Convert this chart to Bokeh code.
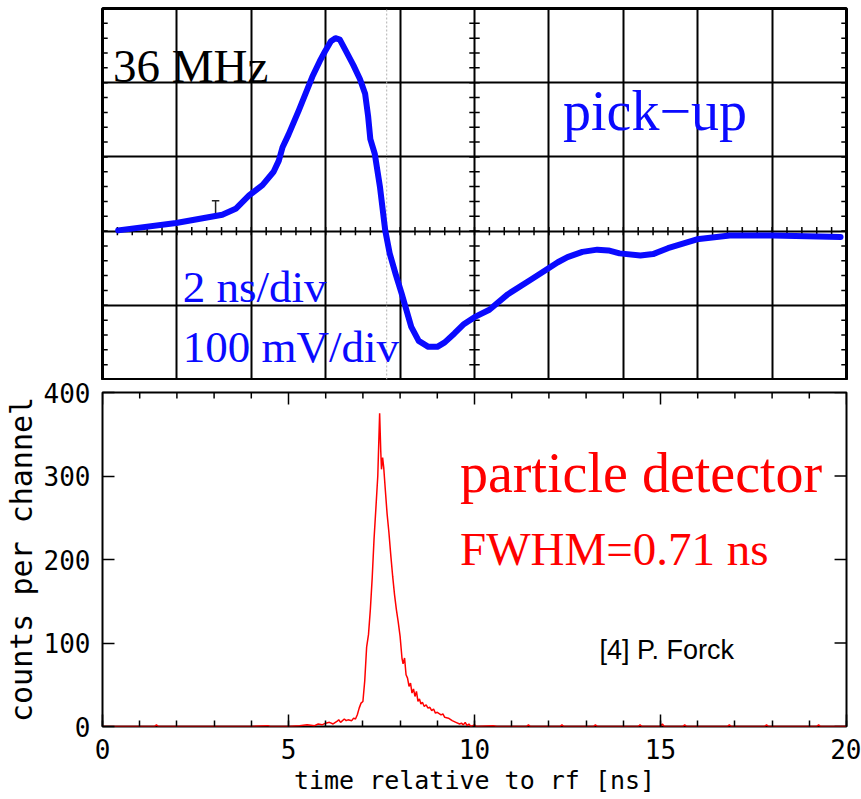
import numpy as np
from bokeh.plotting import figure
from bokeh.layouts import column
from bokeh.models import Range1d, Grid, FixedTicker
from bokeh.core.properties import value
from bokeh.embed import file_html
from bokeh.resources import INLINE

# ---------------- data ----------------
# pick-up signal (oscilloscope divisions: 2 ns/div, 100 mV/div)
pickup_x = [0.21, 0.99, 1.61, 1.79, 1.97, 2.15, 2.30, 2.37, 2.42, 2.50, 2.64, 2.82, 2.92, 2.99,
            3.07, 3.13, 3.19, 3.26, 3.37, 3.46, 3.53, 3.57, 3.60, 3.66, 3.73, 3.80, 3.86, 3.94,
            4.02, 4.15, 4.25, 4.38, 4.50, 4.60, 4.73, 4.85, 5.00, 5.20, 5.45, 5.75, 5.98,
            6.12, 6.25, 6.45, 6.65, 6.80, 6.95, 7.23, 7.40, 7.60, 7.99, 8.43, 9.01, 9.92]
pickup_y = [0.01, 0.11, 0.22, 0.30, 0.48, 0.62, 0.80, 0.95, 1.13, 1.30, 1.63, 2.08, 2.29, 2.42,
            2.56, 2.60, 2.58, 2.45, 2.24, 2.05, 1.85, 1.55, 1.24, 1.04, 0.59, 0.01, -0.30, -0.58,
            -0.84, -1.29, -1.48, -1.56, -1.56, -1.50, -1.38, -1.26, -1.16, -1.06, -0.85, -0.66, -0.51,
            -0.42, -0.35, -0.28, -0.25, -0.26, -0.30, -0.33, -0.31, -0.23, -0.11, -0.06, -0.06, -0.08]

# particle detector histogram (time relative to rf [ns], counts per channel)
det_t = [0.0, 1.40, 1.45, 1.50, 4.00, 4.45, 4.50, 5.00, 5.30, 5.50, 5.70, 5.80, 5.90, 6.00,
         6.10, 6.20, 6.30, 6.35, 6.40, 6.50, 6.55, 6.60, 6.70, 6.75, 6.80, 6.85, 6.90, 6.95,
         7.00, 7.05, 7.10, 7.15, 7.20, 7.25, 7.30, 7.35, 7.40, 7.45, 7.48, 7.50, 7.53, 7.56,
         7.60, 7.65, 7.70, 7.75, 7.80, 7.85, 7.90, 7.95, 8.00, 8.05, 8.08, 8.12, 8.16, 8.20,
         8.24, 8.28, 8.32, 8.36, 8.40, 8.44, 8.48, 8.52, 8.56, 8.60, 8.65, 8.70, 8.75, 8.80,
         8.85, 8.90, 8.95, 9.00, 9.10, 9.15, 9.20, 9.30, 9.40, 9.50, 9.60, 9.65, 9.70, 9.75,
         9.80, 9.85, 9.90, 10.00, 10.05, 10.50, 10.60, 11.40, 11.45, 11.50, 12.30, 12.35,
         12.40, 13.20, 13.25, 13.30, 14.40, 14.45, 14.50, 15.00, 15.05, 15.10, 15.60, 15.65,
         15.70, 16.80, 16.85, 16.90, 17.80, 17.85, 17.90, 19.20, 19.25, 19.30, 20.0]
det_c = [0, 0, 2, 0, 0, 1, 0, 0, 1, 2, 1, 3, 2, 4,
         5, 3, 6, 8, 5, 9, 7, 8, 7, 10, 9, 14, 22, 28,
         30, 55, 95, 110, 140, 178, 225, 262, 300, 375, 330, 308, 322, 310,
         285, 255, 232, 205, 180, 158, 140, 125, 108, 82, 75, 82, 62, 58,
         48, 52, 40, 45, 36, 42, 30, 33, 27, 29, 24, 26, 22, 23,
         19, 21, 16, 17, 14, 15, 11, 10, 7, 5, 3, 4, 2, 5,
         1, 3, 0, 2, 0, 1, 0, 0, 2, 0, 0, 2,
         0, 0, 2, 0, 0, 2, 0, 0, 3, 0, 0, 2,
         0, 0, 2, 0, 0, 2, 0, 0, 2, 0, 0]

x_ticks = [0, 5, 10, 15, 20]
x_minor = list(range(0, 21))
y_ticks = [0, 100, 200, 300, 400]

SERIF = value("Liberation Serif")
BLUE = "#0a0aff"
RED = "#ff0000"

# ---------------- top panel: oscilloscope ----------------
top = figure(width=861, height=380, output_backend="svg", toolbar_location=None,
             x_range=Range1d(0, 10), y_range=Range1d(-2, 3),
             x_axis_location=None, y_axis_location=None,
             min_border_left=99, min_border_right=14, min_border_top=8, min_border_bottom=1)
top.xgrid.visible = False
top.ygrid.visible = False
top.outline_line_color = "black"
top.outline_line_width = 3
top.add_layout(Grid(dimension=0, ticker=FixedTicker(ticks=list(range(1, 10))),
                    grid_line_color="black", grid_line_width=2))
top.add_layout(Grid(dimension=1, ticker=FixedTicker(ticks=[-1, 0, 1, 2]),
                    grid_line_color="black", grid_line_width=2))

# minor division ticks
mx = np.arange(0.2, 10.0, 0.2)
top.segment(x0=mx, y0=-0.055, x1=mx, y1=0.055, line_color="black", line_width=1.5)
my = np.arange(-1.8, 3.0, 0.2)
top.segment(x0=4.93, y0=my, x1=5.07, y1=my, line_color="black", line_width=1.5)
top.segment(x0=0.0, y0=my, x1=0.07, y1=my, line_color="black", line_width=1.5)
top.segment(x0=9.93, y0=my, x1=10.0, y1=my, line_color="black", line_width=1.5)
# faint cursor line and trigger marker
top.segment(x0=[3.82], y0=[-2], x1=[3.82], y1=[3], line_color="#b0b0b0", line_width=1,
            line_dash="2 2")
top.segment(x0=[1.52, 1.47], y0=[0.23, 0.41], x1=[1.52, 1.57], y1=[0.41, 0.41],
            line_color="#222222", line_width=1.5)

top.line(pickup_x, pickup_y, line_color=BLUE, line_width=6, line_join="round", line_cap="round")

top.text(x=[0.14], y=[2.22], text=["36 MHz"], text_font=SERIF, text_font_size="47px",
         text_color="black", text_baseline="alphabetic", text_align="left")
top.text(x=[6.19], y=[1.62], text=["pick\u2212up"], text_font=SERIF, text_font_size="56px",
         text_color=BLUE, text_baseline="alphabetic", text_align="left")
top.text(x=[1.08, 1.08], y=[-0.75, -1.56], text=["2 ns/div", "100 mV/div"], text_font=SERIF,
         text_font_size="45px", text_color=BLUE, text_baseline="alphabetic", text_align="left")

# ---------------- bottom panel: particle detector ----------------
MONO = "DejaVu Sans Mono"
bot = figure(width=861, height=419, output_backend="svg", toolbar_location=None,
             x_range=Range1d(0, 20), y_range=Range1d(0, 400),
             min_border_left=99, min_border_right=15, min_border_top=12, min_border_bottom=73)
bot.xgrid.visible = False
bot.ygrid.visible = False
bot.outline_line_color = "black"
bot.outline_line_width = 2

xa = bot.xaxis[0]
xa.ticker = FixedTicker(ticks=x_ticks, minor_ticks=x_minor)
ya = bot.yaxis[0]
ya.ticker = FixedTicker(ticks=y_ticks)
for ax in (xa, ya):
    ax.major_tick_in = 12
    ax.major_tick_out = 0
    ax.minor_tick_in = 6
    ax.minor_tick_out = 0
    ax.major_tick_line_color = "black"
    ax.major_tick_line_width = 1.5
    ax.minor_tick_line_color = "black"
    ax.minor_tick_line_width = 1.5
    ax.axis_line_color = None
    ax.major_label_text_font = MONO
    ax.major_label_text_font_size = "26px"
    ax.major_label_text_color = "black"
    ax.axis_label_text_font = MONO
    ax.axis_label_text_font_style = "normal"
    ax.axis_label_text_color = "black"
ya.minor_tick_line_color = None
xa.axis_label = "time relative to rf [ns]"
xa.axis_label_text_font_size = "25px"
xa.major_label_standoff = 12
xa.axis_label_standoff = 4
ya.axis_label = "counts per channel"
ya.axis_label_text_font_size = "30px"
ya.major_label_standoff = 12
ya.axis_label_standoff = 2

# ticks on the top and right frame edges (12 px major, 6 px minor, inward)
px_per_ns = 747 / 20.0
px_per_count = 334 / 400.0
major_top = [t for t in x_ticks]
minor_top = [t for t in x_minor if t not in x_ticks]
bot.segment(x0=major_top, y0=400, x1=major_top, y1=400 - 12 / px_per_count,
            line_color="black", line_width=1.5)
bot.segment(x0=minor_top, y0=400, x1=minor_top, y1=400 - 6 / px_per_count,
            line_color="black", line_width=1.5)
bot.segment(x0=20, y0=y_ticks, x1=20 - 12 / px_per_ns, y1=y_ticks,
            line_color="black", line_width=1.5)

bot.line(det_t, det_c, line_color=RED, line_width=1.5)

bot.text(x=[9.61], y=[303], text=["particle detector"], text_font=SERIF, text_font_size="56px",
         text_color=RED, text_baseline="alphabetic", text_align="left")
bot.text(x=[9.61], y=[212], text=["FWHM=0.71 ns"], text_font=SERIF, text_font_size="47px",
         text_color=RED, text_baseline="alphabetic", text_align="left")
bot.text(x=[13.36], y=[92], text=["[4] P. Forck"], text_font=value("Liberation Sans"),
         text_font_size="27px", text_color="black", text_baseline="alphabetic", text_align="left")

layout = column(top, bot, spacing=0)
open("out.html", "w").write(file_html(layout, INLINE))
